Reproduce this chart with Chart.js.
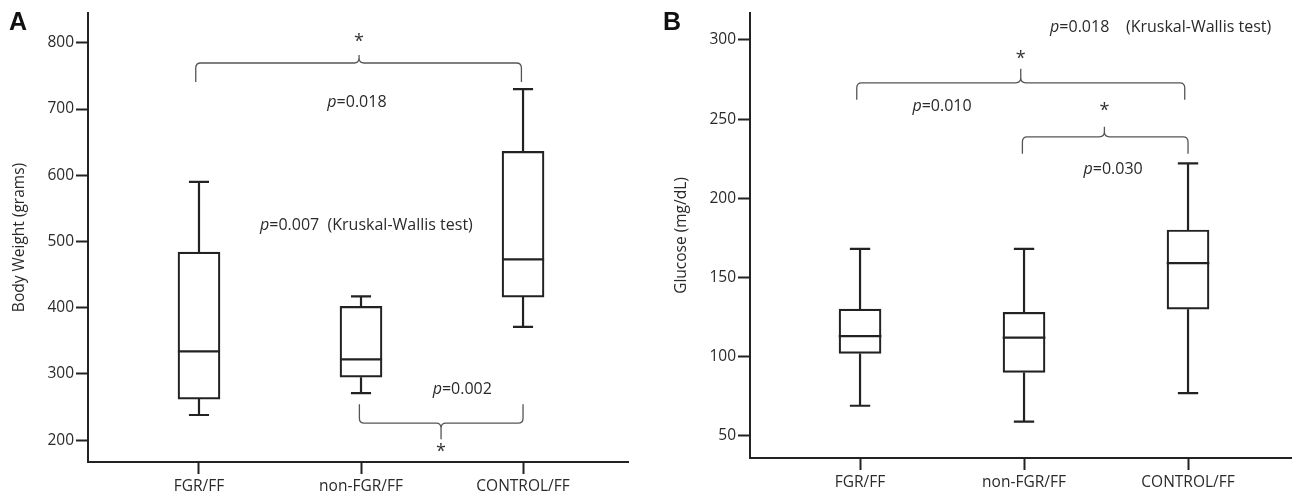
<!DOCTYPE html>
<html>
<head>
<meta charset="utf-8">
<script src="https://cdn.jsdelivr.net/npm/chart.js@4.4.1/dist/chart.umd.min.js"></script>
<style>
  html, body { margin: 0; padding: 0; background: #fff; }
  #wrap { position: relative; width: 1292px; height: 498px; overflow: hidden; background: #fff; }
  #cA { position: absolute; left: 0; top: 0; }
  #cB { position: absolute; left: 640px; top: 0; }
</style>
</head>
<body>
<div id="wrap">
  <canvas id="cA" width="629" height="498"></canvas>
  <canvas id="cB" width="652" height="498"></canvas>
</div>
<script>
// ---------- DATA ----------
const categories = ['FGR/FF', 'non-FGR/FF', 'CONTROL/FF'];

// Panel A: Body weight (grams)
const weightMin    = [238, 271, 371];
const weightQ1     = [262, 295, 416];
const weightMedian = [334, 322, 473];
const weightQ3     = [484, 402, 636];
const weightMax    = [590, 417, 730];
const weightTicks  = [200, 300, 400, 500, 600, 700, 800];

// Panel B: Glucose (mg/dL)
const glucoseMin    = [69, 59, 77];
const glucoseQ1     = [102, 90, 130];
const glucoseMedian = [113, 112, 159];
const glucoseQ3     = [130, 128, 180];
const glucoseMax    = [168, 168, 222];
const glucoseTicks  = [50, 100, 150, 200, 250, 300];

// Annotation texts
const weightKW   = ['p', '=0.007  (Kruskal-Wallis test)'];
const weightP13  = ['p', '=0.018'];
const weightP23  = ['p', '=0.002'];
const glucoseKW  = ['p', '=0.018    (Kruskal-Wallis test)'];
const glucoseP13 = ['p', '=0.010'];
const glucoseP23 = ['p', '=0.030'];

// ---------- STYLE ----------
const INK = '#222';
const TXT = '#2a2a2a';
const FONT = "'Open Sans', 'Noto Sans', sans-serif";
const CAP_HALF = 0.062;
const MED_HALF = 0.13;

function boxDatasets(mn, q1, med, q3, mx) {
  const whisk = [], caps = [], meds = [];
  categories.forEach((c, i) => {
    const x = i + 1;
    whisk.push({x, y: q3[i]}, {x, y: mx[i]}, {x, y: null});
    whisk.push({x, y: q1[i]}, {x, y: mn[i]}, {x, y: null});
    caps.push({x: x - CAP_HALF, y: mx[i]}, {x: x + CAP_HALF, y: mx[i]}, {x, y: null});
    caps.push({x: x - CAP_HALF, y: mn[i]}, {x: x + CAP_HALF, y: mn[i]}, {x, y: null});
    meds.push({x: x - MED_HALF, y: med[i]}, {x: x + MED_HALF, y: med[i]}, {x, y: null});
  });
  const lineStyle = {type: 'line', showLine: true, pointRadius: 0, borderWidth: 2.2,
    borderColor: INK, spanGaps: false, fill: false, tension: 0, order: 0};
  return [
    {type: 'bar', data: categories.map((c, i) => ({x: i + 1, y: [q1[i], q3[i]]})),
     backgroundColor: '#fff', borderColor: INK, borderWidth: 2.2, borderSkipped: false,
     barThickness: 42, order: 1},
    Object.assign({data: whisk}, lineStyle),
    Object.assign({data: caps}, lineStyle),
    Object.assign({data: meds}, lineStyle)
  ];
}

function richText(ctx, x, y, parts, align) {
  ctx.save();
  ctx.textBaseline = 'middle';
  ctx.fillStyle = TXT;
  const fIt = "italic 16px " + FONT, fN = "16px " + FONT;
  ctx.font = fIt; const w1 = ctx.measureText(parts[0]).width;
  ctx.font = fN; const w2 = ctx.measureText(parts[1]).width;
  let sx = align === 'center' ? x - (w1 + w2) / 2 : x;
  ctx.textAlign = 'left';
  ctx.font = fIt; ctx.fillText(parts[0], sx, y);
  ctx.font = fN; ctx.fillText(parts[1], sx + w1, y);
  ctx.restore();
}

// brace: dir = -1 -> cusp up, ends down ; dir = +1 -> cusp down, ends up
function brace(ctx, xs, ys, b) {
  const x1 = xs.getPixelForValue(b.x1), x2 = xs.getPixelForValue(b.x2);
  const xc = xs.getPixelForValue(b.xc), yh = ys.getPixelForValue(b.y);
  const d = b.dir, r = 5;
  const yEnd = yh - d * b.end;
  const yPeak = yh + d * b.cusp;
  ctx.save();
  ctx.strokeStyle = '#555';
  ctx.lineWidth = 1.3;
  ctx.beginPath();
  ctx.moveTo(x1, yEnd);
  ctx.lineTo(x1, yh - d * r);
  ctx.quadraticCurveTo(x1, yh, x1 + r, yh);
  ctx.lineTo(xc - r, yh);
  ctx.quadraticCurveTo(xc, yh, xc, yh + d * r);
  ctx.lineTo(xc, yPeak);
  ctx.moveTo(xc, yh + d * r);
  ctx.quadraticCurveTo(xc, yh, xc + r, yh);
  ctx.lineTo(x2 - r, yh);
  ctx.quadraticCurveTo(x2, yh, x2, yh - d * r);
  ctx.lineTo(x2, yEnd);
  ctx.stroke();
  ctx.fillStyle = '#333';
  ctx.font = "18px " + FONT;
  ctx.textAlign = 'center';
  ctx.textBaseline = 'middle';
  ctx.fillText('*', xc, yh + d * b.star + 4);
  ctx.restore();
}

function makePanel(canvasId, cfg) {
  const annot = {
    id: 'annot' + canvasId,
    afterDatasetsDraw(chart) {
      const ctx = chart.ctx, xs = chart.scales.x, ys = chart.scales.y;
      cfg.braces.forEach(b => brace(ctx, xs, ys, b));
      cfg.texts.forEach(t => richText(ctx, xs.getPixelForValue(t.x), ys.getPixelForValue(t.y), t.parts, t.align));
      ctx.save();
      ctx.fillStyle = '#111';
      ctx.font = "bold 25px 'Liberation Sans', Arial, sans-serif";
      ctx.textAlign = 'left';
      ctx.textBaseline = 'alphabetic';
      ctx.fillText(cfg.letter, cfg.letterX, 30);
      ctx.restore();
    }
  };
  const gridCfg = {display: true, drawOnChartArea: false, drawTicks: true, tickLength: 12,
    tickColor: INK, tickWidth: 2, offset: false};
  return new Chart(document.getElementById(canvasId), {
    type: 'bar',
    data: {datasets: boxDatasets(cfg.mn, cfg.q1, cfg.med, cfg.q3, cfg.mx)},
    options: {
      responsive: false,
      animation: false,
      events: [],
      layout: {padding: {top: 13, left: 0, right: 0, bottom: 0}},
      plugins: {legend: {display: false}, tooltip: {enabled: false}},
      scales: {
        x: {
          type: 'linear', min: cfg.xMin, max: cfg.xMax, offset: false,
          afterBuildTicks: s => { s.ticks = categories.map((c, i) => ({value: i + 1})); },
          afterFit: s => { s.height = cfg.xHeight; },
          ticks: {autoSkip: false, maxRotation: 0, padding: 3, color: TXT,
            font: {family: FONT, size: 15.5},
            callback: v => categories[v - 1]},
          grid: gridCfg,
          border: {display: true, color: INK, width: 2}
        },
        y: {
          type: 'linear', min: cfg.yMin, max: cfg.yMax,
          afterBuildTicks: s => { s.ticks = cfg.ticks.map(v => ({value: v})); },
          afterFit: s => { s.width = cfg.yWidth; },
          ticks: {padding: 2, color: TXT, font: {family: FONT, size: 15.5}},
          grid: gridCfg,
          border: {display: true, color: INK, width: 2},
          title: {display: true, text: cfg.yTitle, color: TXT,
            font: {family: FONT, size: 15.5}, padding: {top: cfg.titlePad, bottom: 0}}
        }
      }
    },
    plugins: [annot]
  });
}

makePanel('cA', {
  mn: weightMin, q1: weightQ1, med: weightMedian, q3: weightQ3, mx: weightMax,
  ticks: weightTicks, yMin: 167, yMax: 845, xMin: 0.315, xMax: 3.654,
  yWidth: 88, xHeight: 36, titlePad: 10.5, yTitle: 'Body Weight (grams)',
  letter: 'A', letterX: 9,
  braces: [
    {x1: 0.98, x2: 2.99, xc: 1.988, y: 769.5, dir: -1, end: 19, cusp: 8, star: 25},
    {x1: 1.99, x2: 3.0, xc: 2.494, y: 225.7, dir: 1, end: 19, cusp: 16, star: 25}
  ],
  texts: [
    {x: 1.975, y: 710.6, parts: weightP13, align: 'center'},
    {x: 1.377, y: 524.8, parts: weightKW, align: 'left'},
    {x: 2.625, y: 277, parts: weightP23, align: 'center'}
  ]
});

makePanel('cB', {
  mn: glucoseMin, q1: glucoseQ1, med: glucoseMedian, q3: glucoseQ3, mx: glucoseMax,
  ticks: glucoseTicks, yMin: 36, yMax: 317, xMin: 0.329, xMax: 3.634,
  yWidth: 110, xHeight: 40, titlePad: 32.5, yTitle: 'Glucose (mg/dL)',
  letter: 'B', letterX: 23,
  braces: [
    {x1: 0.98, x2: 2.98, xc: 1.98, y: 272.9, dir: -1, end: 17, cusp: 14, star: 28},
    {x1: 1.99, x2: 3.0, xc: 2.49, y: 238.8, dir: -1, end: 17, cusp: 10, star: 30}
  ],
  texts: [
    {x: 2.159, y: 307.6, parts: glucoseKW, align: 'left'},
    {x: 1.5, y: 257.7, parts: glucoseP13, align: 'center'},
    {x: 2.543, y: 218, parts: glucoseP23, align: 'center'}
  ]
});
</script>
</body>
</html>
